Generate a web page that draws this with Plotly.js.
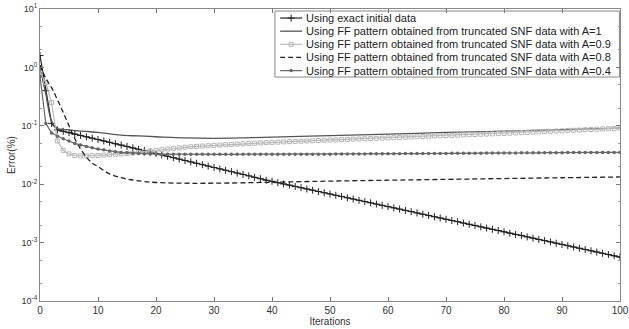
<!DOCTYPE html>
<html>
<head>
<meta charset="utf-8">
<script src="https://cdn.plot.ly/plotly-3.0.1.min.js"></script>
<style>html,body{margin:0;padding:0;background:#fff;}#chart{width:629px;height:329px;}</style>
</head>
<body>
<div id="chart"></div>
<script>
// Iterations (every iteration carries a marker)
var iterations = [0,1,2,3,4,5,6,7,8,9,10,11,12,13,14,15,16,17,18,19,20,21,22,23,24,25,26,27,28,29,30,31,32,33,34,35,36,37,38,39,40,41,42,43,44,45,46,47,48,49,50,51,52,53,54,55,56,57,58,59,60,61,62,63,64,65,66,67,68,69,70,71,72,73,74,75,76,77,78,79,80,81,82,83,84,85,86,87,88,89,90,91,92,93,94,95,96,97,98,99,100];

// Using exact initial data
var errExact = [1.6,0.4,0.11,0.0851,0.0805,0.0764,0.0723,0.0685,0.0649,0.0614,0.0582,0.0551,0.0522,0.0494,0.0468,0.0443,0.0419,0.0396,0.0375,0.0355,0.0336,0.0318,0.0301,0.0284,0.0269,0.0255,0.0241,0.0228,0.0216,0.0204,0.0193,0.0183,0.0173,0.0164,0.0155,0.0147,0.0139,0.0131,0.0124,0.0117,0.0112,0.0106,0.0101,0.00964,0.00917,0.00872,0.00828,0.00789,0.0075,0.00714,0.00679,0.00646,0.00615,0.00585,0.00557,0.0053,0.00504,0.0048,0.00456,0.00434,0.00413,0.00393,0.00374,0.00356,0.00339,0.00322,0.00306,0.00292,0.00277,0.00264,0.00251,0.00239,0.00228,0.00216,0.00206,0.00196,0.00186,0.00177,0.00169,0.00161,0.00153,0.00145,0.00138,0.00132,0.00125,0.00119,0.00113,0.00108,0.00103,0.000977,0.000929,0.000884,0.000841,0.0008,0.000762,0.000724,0.000689,0.000656,0.000624,0.000594,0.000565];

// A=1 (plain line, no markers)
var iterA1 = [0,1,2,3,4,5,6,8,10,12,14,17,20,25,30,35,40,50,60,70,80,90,100];
var errA1 = [1.0,0.35,0.12,0.09,0.087,0.085,0.083,0.080,0.077,0.073,0.069,0.067,0.065,0.062,0.061,0.062,0.064,0.068,0.072,0.077,0.081,0.086,0.091];

// A=0.9 (square markers)
var errA09 = [0.8,0.55,0.25,0.055,0.038,0.033,0.031,0.0305,0.0305,0.031,0.031,0.0315,0.032,0.0325,0.033,0.0335,0.034,0.035,0.036,0.037,0.038,0.039,0.040,0.041,0.042,0.043,0.0437,0.0444,0.045,0.0456,0.0462,0.0468,0.0474,0.048,0.0486,0.0492,0.0498,0.0504,0.051,0.0515,0.052,0.0525,0.053,0.0535,0.054,0.0545,0.055,0.0555,0.056,0.0565,0.057,0.0575,0.058,0.0585,0.059,0.0595,0.060,0.0605,0.061,0.0615,0.062,0.0626,0.0632,0.0638,0.0644,0.065,0.0656,0.0662,0.0668,0.0674,0.068,0.0686,0.0692,0.0698,0.0704,0.071,0.0716,0.0722,0.0728,0.0734,0.074,0.0748,0.0756,0.0764,0.0772,0.078,0.0788,0.0796,0.0804,0.0812,0.082,0.0829,0.0838,0.0847,0.0856,0.0865,0.0874,0.0883,0.0892,0.0901,0.091];

// A=0.8 (dashed line, no markers)
var iterA08 = [0,1,2,3,4,5,6,7,8,9,10,12,14,16,18,20,25,30,40,50,60,70,80,90,100];
var errA08 = [1.1,0.65,0.45,0.28,0.17,0.1,0.06,0.04,0.029,0.023,0.02,0.015,0.0129,0.0118,0.0111,0.0107,0.0104,0.0104,0.0108,0.0113,0.0117,0.0121,0.0125,0.0129,0.0133];

// A=0.4 (dot markers)
var errA04 = [0.7,0.11,0.075,0.066,0.06,0.055,0.05,0.047,0.044,0.042,0.04,0.039,0.037,0.036,0.035,0.0345,0.034,0.0335,0.033,0.033,0.0328,0.0327,0.0326,0.0325,0.0325,0.0325,0.0325,0.0325,0.0325,0.0325,0.0325,0.0325,0.0325,0.0325,0.0325,0.0325,0.0325,0.0325,0.0325,0.0325,0.0325,0.0325,0.0325,0.0325,0.0325,0.0325,0.0326,0.0326,0.0326,0.0327,0.0327,0.0328,0.0328,0.0329,0.0329,0.033,0.033,0.0331,0.0331,0.0332,0.0332,0.0333,0.0333,0.0334,0.0334,0.0335,0.0335,0.0336,0.0336,0.0337,0.0337,0.0338,0.0338,0.0339,0.0339,0.034,0.034,0.0341,0.0341,0.0342,0.0342,0.0343,0.0343,0.0344,0.0344,0.0345,0.0345,0.0346,0.0346,0.0347,0.0347,0.0348,0.0348,0.0349,0.0349,0.035,0.035,0.035,0.035,0.035,0.035];

var legendNames = [
  'Using exact initial data',
  'Using FF pattern obtained from truncated SNF data with A=1',
  'Using FF pattern obtained from truncated SNF data with A=0.9',
  'Using FF pattern obtained from truncated SNF data with A=0.8',
  'Using FF pattern obtained from truncated SNF data with A=0.4'
];
var yTickVals = [1e-4,1e-3,1e-2,1e-1,1,10];
var yTickText = ['10<sup>-4</sup>','10<sup>-3</sup>','10<sup>-2</sup>','10<sup>-1</sup>','10<sup>0</sup>','10<sup>1</sup>'];
var xTickVals = [0,10,20,30,40,50,60,70,80,90,100];

// Series styles
var styles = [
  {line: {color: '#222', width: 1.2}, marker: {symbol: 'cross-thin-open', size: 5, color: '#222', line: {width: 1, color: '#222'}}, mode: 'lines+markers'},
  {line: {color: '#555', width: 1.3, shape: 'spline'}, mode: 'lines'},
  {line: {color: '#bbb', width: 1.2}, marker: {symbol: 'square-open', size: 4, color: '#b5b5b5', line: {width: 1}}, mode: 'lines+markers'},
  {line: {color: '#222', width: 1.3, dash: '5px,3px', shape: 'spline'}, mode: 'lines'},
  {line: {color: '#666', width: 1.2}, marker: {symbol: 'circle', size: 3.5, color: '#666'}, mode: 'lines+markers'}
];
var seriesX = [iterations, iterA1, iterations, iterA08, iterations];
var seriesY = [errExact, errA1, errA09, errA08, errA04];

var traces = [];
for (var i = 0; i < 5; i++) {
  var t = {x: seriesX[i], y: seriesY[i], name: legendNames[i], mode: styles[i].mode, line: styles[i].line, showlegend: false};
  if (styles[i].marker) t.marker = styles[i].marker;
  traces.push(t);
}

// Compact legend (MATLAB style): box, key samples and labels in plot-area fractions
var legBox = {x0: 0.405, x1: 0.999, y0: 0.767, y1: 0.993};
var legRowY = [0.969, 0.924, 0.879, 0.834, 0.789];
var keyX0 = 0.414, keyX1 = 0.452, keyMid = 0.433, textX = 0.456;

var shapes = [{type: 'rect', xref: 'paper', yref: 'paper', x0: legBox.x0, x1: legBox.x1, y0: legBox.y0, y1: legBox.y1,
  line: {color: '#888', width: 1}, fillcolor: '#fff', layer: 'below'}];
var annotations = [];
for (var k = 0; k < 5; k++) {
  var ln = styles[k].line;
  shapes.push({type: 'line', xref: 'paper', yref: 'paper', x0: keyX0, x1: keyX1, y0: legRowY[k], y1: legRowY[k],
    line: {color: ln.color, width: ln.width, dash: ln.dash || 'solid'}, layer: 'below'});
  annotations.push({xref: 'paper', yref: 'paper', x: textX, y: legRowY[k], xanchor: 'left', yanchor: 'middle',
    text: legendNames[k], showarrow: false,
    font: {family: 'Liberation Sans, Arial, sans-serif', size: 11, color: '#222'}});
}
// key markers on an overlay axis spanning the plot area
var keyMarkerIdx = [0, 2, 4];
for (var m = 0; m < keyMarkerIdx.length; m++) {
  var s = styles[keyMarkerIdx[m]];
  traces.push({x: [keyMid], y: [legRowY[keyMarkerIdx[m]]], xaxis: 'x2', yaxis: 'y2', mode: 'markers',
    marker: s.marker, showlegend: false, hoverinfo: 'skip', cliponaxis: false});
}

var axisFont = {family: 'Liberation Sans, Arial, sans-serif', size: 10, color: '#333'};
var layout = {
  width: 629, height: 329,
  margin: {l: 40, r: 9, t: 9, b: 28},
  paper_bgcolor: '#fff', plot_bgcolor: '#fff',
  showlegend: false,
  font: axisFont,
  xaxis: {
    range: [0, 100], tickvals: xTickVals, ticks: 'inside', ticklen: 4, tickcolor: '#777',
    showline: true, linecolor: '#888', linewidth: 1, mirror: 'ticks', showgrid: false, zeroline: false,
    tickfont: axisFont,
    title: {text: 'Iterations', font: axisFont, standoff: 2}
  },
  yaxis: {
    type: 'log', range: [-4, 1], tickvals: yTickVals, ticktext: yTickText, ticks: 'inside', ticklen: 4, tickcolor: '#777',
    minor: {ticks: 'inside', ticklen: 2, tickcolor: '#999', showgrid: false},
    showline: true, linecolor: '#888', linewidth: 1, mirror: 'ticks', showgrid: false, zeroline: false,
    tickfont: {family: 'Liberation Sans, Arial, sans-serif', size: 9, color: '#333'},
    title: {text: 'Error(%)', font: axisFont, standoff: 4}
  },
  xaxis2: {overlaying: 'x', anchor: 'y2', range: [0, 1], visible: false, fixedrange: true},
  yaxis2: {overlaying: 'y', anchor: 'x2', range: [0, 1], visible: false, fixedrange: true},
  shapes: shapes,
  annotations: annotations
};

Plotly.newPlot('chart', traces, layout, {staticPlot: true, displayModeBar: false});
</script>
</body>
</html>
